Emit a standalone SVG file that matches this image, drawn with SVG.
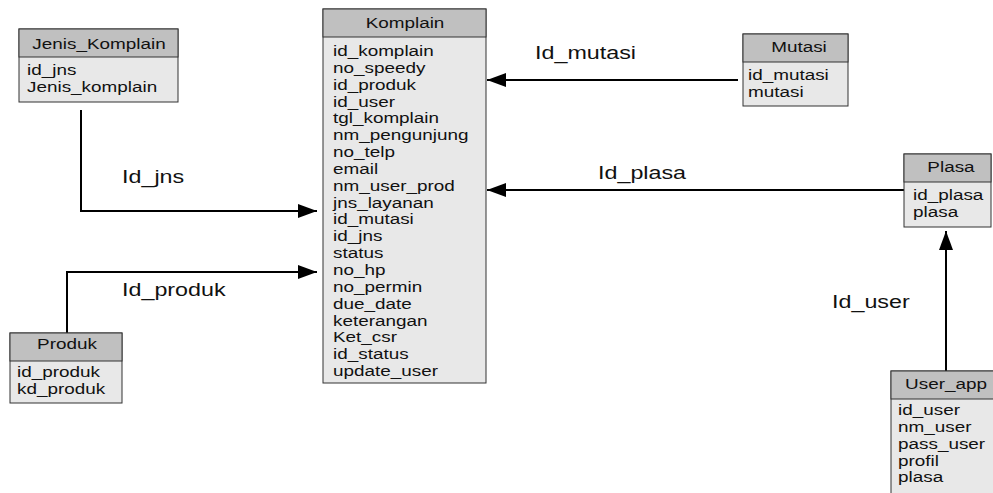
<svg xmlns="http://www.w3.org/2000/svg" width="993" height="493" viewBox="0 0 993 493">
<defs>
<style>
.hdr{fill:#c0c0c0;stroke:#333;stroke-width:1}
.body{fill:#e8e8e8;stroke:#333;stroke-width:1}
.t{font-family:"Liberation Sans",Arial,sans-serif;font-size:15px;fill:#111}
.c{text-anchor:middle}
.lbl{font-family:"Liberation Sans",Arial,sans-serif;font-size:18.5px;fill:#111}
.con{fill:none;stroke:#000;stroke-width:2}
</style>
<marker id="arr" markerUnits="userSpaceOnUse" markerWidth="20" markerHeight="16" refX="19" refY="7" orient="auto">
<path d="M0,0 L19,7 L0,14 z" fill="#000"/>
</marker>
</defs>
<rect width="993" height="493" fill="#fff"/>

<g id="connectors">
<path class="con" d="M81,110 V211 H317" marker-end="url(#arr)"/>
<path class="con" d="M67,333 V272 H317" marker-end="url(#arr)"/>
<path class="con" d="M738,80 H487" marker-end="url(#arr)"/>
<path class="con" d="M904,190 H487" marker-end="url(#arr)"/>
<path class="con" d="M946,371 V231" marker-end="url(#arr)"/>
<text class="lbl" transform="translate(122,183) scale(1.26,1)">Id_jns</text>
<text class="lbl" transform="translate(122,296) scale(1.26,1)">Id_produk</text>
<text class="lbl" transform="translate(535,59) scale(1.26,1)">Id_mutasi</text>
<text class="lbl" transform="translate(598,179) scale(1.26,1)">Id_plasa</text>
<text class="lbl" transform="translate(832,308) scale(1.26,1)">Id_user</text>
</g>

<g id="Jenis_Komplain">
<rect class="body" x="19" y="29" width="159" height="73"/>
<rect class="hdr" x="19" y="29" width="159" height="28"/>
<text class="t c" transform="translate(99,49) scale(1.26,1)">Jenis_Komplain</text>
<g transform="translate(27,75) scale(1.26,1)">
<text class="t" y="0">id_jns</text>
<text class="t" y="17">Jenis_komplain</text>
</g>
</g>

<g id="Komplain">
<rect class="body" x="323" y="9" width="163" height="374"/>
<rect class="hdr" x="323" y="9" width="163" height="28"/>
<text class="t c" transform="translate(405,28) scale(1.26,1)">Komplain</text>
<g transform="translate(333,56) scale(1.26,1)">
<text class="t" y="0">id_komplain</text>
<text class="t" y="16.85">no_speedy</text>
<text class="t" y="33.7">id_produk</text>
<text class="t" y="50.55">id_user</text>
<text class="t" y="67.4">tgl_komplain</text>
<text class="t" y="84.25">nm_pengunjung</text>
<text class="t" y="101.1">no_telp</text>
<text class="t" y="117.95">email</text>
<text class="t" y="134.8">nm_user_prod</text>
<text class="t" y="151.65">jns_layanan</text>
<text class="t" y="168.5">id_mutasi</text>
<text class="t" y="185.35">id_jns</text>
<text class="t" y="202.2">status</text>
<text class="t" y="219.05">no_hp</text>
<text class="t" y="235.9">no_permin</text>
<text class="t" y="252.75">due_date</text>
<text class="t" y="269.6">keterangan</text>
<text class="t" y="286.45">Ket_csr</text>
<text class="t" y="303.3">id_status</text>
<text class="t" y="320.15">update_user</text>
</g>
</g>

<g id="Mutasi">
<rect class="body" x="743" y="34" width="105" height="72"/>
<rect class="hdr" x="743" y="34" width="105" height="28"/>
<text class="t c" transform="translate(799,52) scale(1.26,1)">Mutasi</text>
<g transform="translate(748,80) scale(1.26,1)">
<text class="t" y="0">id_mutasi</text>
<text class="t" y="17">mutasi</text>
</g>
</g>

<g id="Plasa">
<rect class="body" x="904" y="154" width="87" height="73"/>
<rect class="hdr" x="904" y="154" width="87" height="28"/>
<text class="t c" transform="translate(951,172) scale(1.26,1)">Plasa</text>
<g transform="translate(913,200) scale(1.26,1)">
<text class="t" y="0">id_plasa</text>
<text class="t" y="17">plasa</text>
</g>
</g>

<g id="User_app">
<rect class="body" x="891" y="371" width="110" height="130"/>
<rect class="hdr" x="891" y="371" width="110" height="28"/>
<text class="t c" transform="translate(946,389) scale(1.26,1)">User_app</text>
<g transform="translate(898,415) scale(1.26,1)">
<text class="t" y="0">id_user</text>
<text class="t" y="17">nm_user</text>
<text class="t" y="34">pass_user</text>
<text class="t" y="51">profil</text>
<text class="t" y="67.5">plasa</text>
</g>
</g>

<g id="Produk">
<rect class="body" x="10" y="333" width="112" height="70"/>
<rect class="hdr" x="10" y="333" width="112" height="28"/>
<text class="t c" transform="translate(67,349) scale(1.26,1)">Produk</text>
<g transform="translate(17,377) scale(1.26,1)">
<text class="t" y="0">id_produk</text>
<text class="t" y="17">kd_produk</text>
</g>
</g>
</svg>
